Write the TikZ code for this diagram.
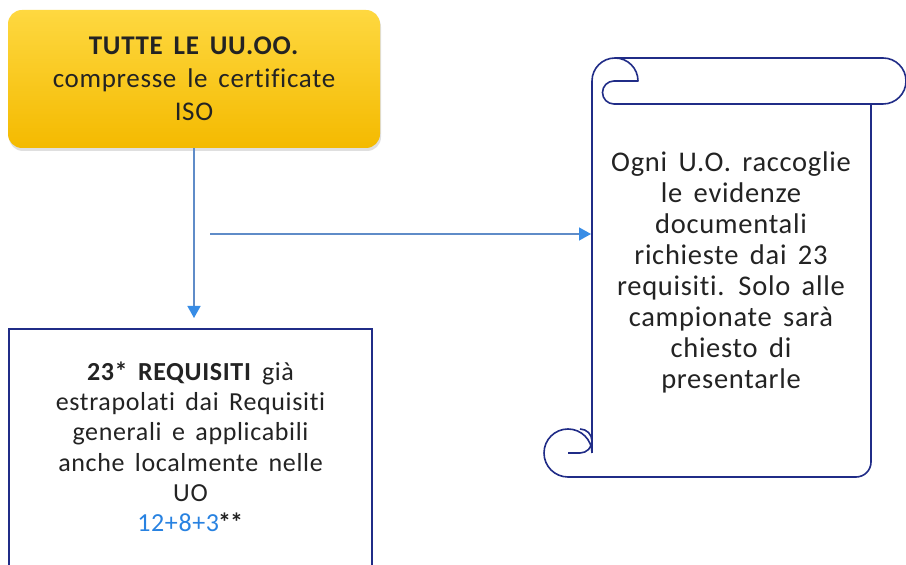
\documentclass[tikz,border=0pt]{standalone}
\usepackage{fontspec}
\setmainfont{Carlito}[LetterSpace=2.5,WordSpace=1.6,Ligatures=NoCommon]
\usetikzlibrary{arrows.meta,positioning,shadows,calc}
\definecolor{goldtop}{RGB}{254,216,64}
\definecolor{goldbot}{RGB}{244,186,0}
\definecolor{navy}{RGB}{32,44,135}
\definecolor{lineblue}{RGB}{95,140,200}
\definecolor{tipblue}{RGB}{55,140,230}
\definecolor{numblue}{RGB}{40,130,225}
\definecolor{ink}{RGB}{35,35,35}
\tikzset{
  topbox/.style={rounded corners=14pt,top color=goldtop,bottom color=goldbot,minimum width=372pt,minimum height=138pt,align=center,text=ink,font=\fontsize{27}{33}\selectfont,drop shadow={opacity=0.25,shadow xshift=1pt,shadow yshift=-3pt}},
  reqbox/.style={draw=navy,line width=1.6pt,minimum width=363pt,minimum height=300pt,fill=white},
  txt/.style={align=center,text=ink,font=\fontsize{26}{30.3}\selectfont},
  scroll/.style={draw=navy,line width=1.6pt,line join=round},
  arr/.style={-{Triangle[length=12pt,width=13pt,color=tipblue]},lineblue,line width=1.4pt},
}
\begin{document}
\begin{tikzpicture}[x=1pt,y=1pt]
 \fill[white] (0,0) rectangle (906,565);
 \useasboundingbox (0,0) rectangle (906,565);
 \clip (0,0) rectangle (906,565);
 % left column
 \node[topbox] (all) at (194,486) {\textbf{TUTTE LE UU.OO.}\\compresse le certificate\\ISO};
 \node[reqbox,anchor=north] (req) at (190.5,237) {};
 \node[txt,below=30pt of req.north] (reqtxt) {\textbf{23* REQUISITI} già\\estrapolati dai Requisiti\\generali e applicabili\\anche localmente nelle\\UO\\{\color{numblue}12+8+3}\kern-1pt\textbf{*\kern-1pt*}};
 % scroll
 \draw[scroll] (592,112) -- (592,484) arc[start angle=180,end angle=0,radius=23] -- (614,484)
   arc[start angle=90,end angle=270,radius=11.5] -- (883,461) arc[start angle=-90,end angle=90,radius=23] -- (615,507);
 \draw[scroll] (871,461) -- (871,103) arc[start angle=0,end angle=-90,radius=15] -- (568,88)
   arc[start angle=-90,end angle=-360,radius=24];
 \draw[scroll] (580,136) arc[start angle=90,end angle=-90,radius=12] -- (568,112);
 \node[txt,font=\fontsize{28.5}{31}\selectfont] (note) at (731,293) {Ogni U.O. raccoglie\\le evidenze\\documentali\\richieste dai 23\\requisiti. Solo alle\\campionate sarà\\chiesto di\\presentarle};
 % connectors
 \coordinate (split) at (210,331);
 \coordinate (scrollL) at (591,331);
 \draw[arr,shorten >=10pt] (all.south) -- (all.south |- req.north);
 \draw[arr] (split) -- (scrollL);
\end{tikzpicture}
\end{document}
